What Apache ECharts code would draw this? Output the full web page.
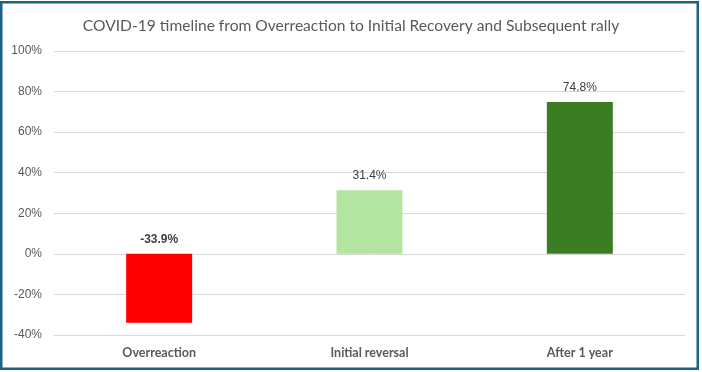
<!DOCTYPE html>
<html>
<head>
<meta charset="utf-8">
<script src="https://cdn.jsdelivr.net/npm/echarts@6/dist/echarts.min.js"></script>
<style>
  html, body { margin: 0; padding: 0; background: #fff; }
  #chart { width: 702px; height: 372px; }
</style>
</head>
<body>
<div id="chart"></div>
<script>
const titleText = "COVID-19 timeline from Overreaction to Initial Recovery and Subsequent rally";
const categories = ["Overreaction", "Initial reversal", "After 1 year"];
const values = [-33.9, 31.4, 74.8];
const barColors = ["#FF0000", "#B3E5A1", "#3A7D22"];
const labelBold = [true, false, false];
const yMin = -40, yMax = 100, yStep = 20;

const chart = echarts.init(document.getElementById('chart'), null, { renderer: 'canvas' });
chart.setOption({
  backgroundColor: '#ffffff',
  animation: false,
  title: {
    text: titleText,
    left: 'center',
    top: 13,
    textStyle: { fontFamily: 'Lato', fontSize: 15.6, fontWeight: 'normal', color: '#595959' }
  },
  grid: { left: 54, right: 17, top: 51, bottom: 37, containLabel: false },
  xAxis: {
    type: 'category',
    data: categories,
    position: 'bottom',
    axisLine: { show: false, onZero: false },
    axisTick: { show: false },
    axisLabel: { margin: 11, fontFamily: 'Lato', fontSize: 12.5, fontWeight: 'bold', color: '#595959' }
  },
  yAxis: {
    type: 'value',
    min: yMin, max: yMax, interval: yStep,
    axisLine: { show: false },
    axisTick: { show: false },
    splitLine: { lineStyle: { color: '#D9D9D9', width: 1 } },
    axisLabel: { margin: 12, fontFamily: 'Liberation Sans', fontSize: 12, color: '#595959', formatter: v => v + '%' }
  },
  series: [{
    type: 'bar',
    barWidth: 66,
    data: values.map((v, i) => ({
      value: v,
      itemStyle: { color: barColors[i] },
      label: v < 0 ? { position: 'insideTop', offset: [0, -28], fontWeight: 'bold', color: '#404040' } : { fontWeight: labelBold[i] ? 'bold' : 'normal' }
    })),
    label: {
      show: true,
      position: 'top',
      distance: 8,
      fontFamily: 'Liberation Sans',
      fontSize: 12,
      color: '#404040',
      formatter: p => p.value.toFixed(1) + '%'
    }
  }],
  graphic: [{
    type: 'rect',
    shape: { x: 1.25, y: 2.25, width: 696.5, height: 366.5 },
    style: { fill: 'none', stroke: '#1D6284', lineWidth: 2.5 },
    silent: true
  }]
});
</script>
</body>
</html>
